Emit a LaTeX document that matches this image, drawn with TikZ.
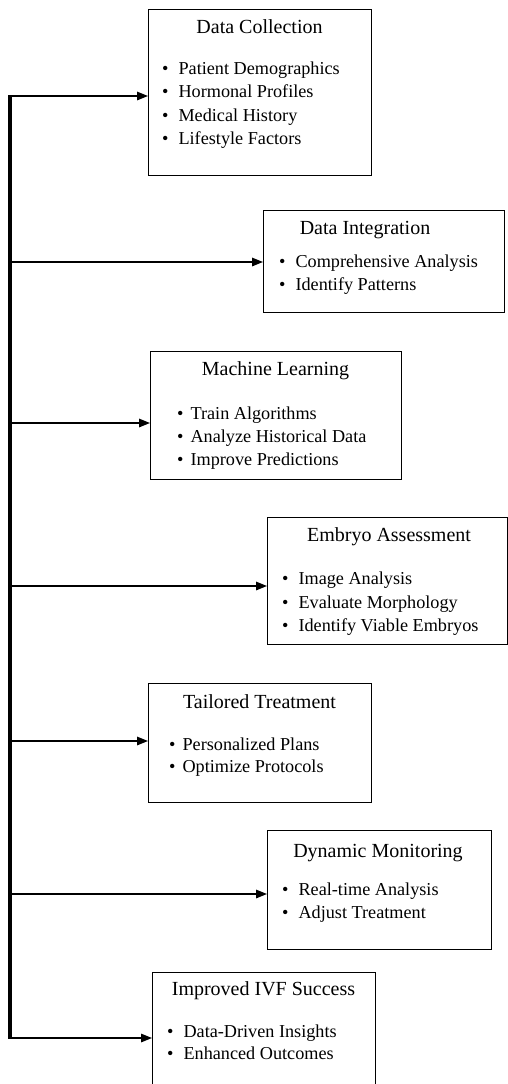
\documentclass[tikz,border=0pt]{standalone}
\usepackage{fontspec}
\setmainfont{Liberation Serif}
\usetikzlibrary{arrows.meta}
\begin{document}
\begin{tikzpicture}[x=1pt,y=-1pt,
  box/.style={draw,line width=1.1pt,inner sep=0pt,anchor=north west},
  ttl/.style={font=\fontsize{20}{23}\selectfont,text height=0.7em,text depth=0.25em,inner sep=0pt,yshift=-4pt},
  itm/.style={font=\fontsize{18.2}{21}\selectfont,text height=0.7em,text depth=0.25em,inner sep=0pt,anchor=west,yshift=-3.5pt},
  conn/.style={line width=1.5pt,-{Triangle[length=11pt,width=8.5pt]}},
  spine/.style={line width=4.8pt}]
\clip (0,0) rectangle (508,1084);
\fill[white] (0,0) rectangle (508,1084);
% boxes
\node[box,minimum width=223pt,minimum height=166pt] (dc) at (148,9) {};
\node[box,minimum width=241pt,minimum height=102pt] (di) at (263,210) {};
\node[box,minimum width=251pt,minimum height=128pt] (ml) at (150,351) {};
\node[box,minimum width=239.5pt,minimum height=127pt] (ea) at (267,517) {};
\node[box,minimum width=223pt,minimum height=119pt] (tt) at (148,683) {};
\node[box,minimum width=224pt,minimum height=119pt] (dm) at (267,830) {};
\node[box,minimum width=223pt,minimum height=130pt] (iv) at (152,972) {};
% titles
\node[ttl] (dct) at (259.5,27) {Data Collection};
\node[ttl] (dit) at (365,228) {Data Integration};
\node[ttl] (mlt) at (275.5,369) {Machine Learning};
\node[ttl] (eat) at (389,535) {Embryo Assessment};
\node[ttl] (ttt) at (259.5,702) {Tailored Treatment};
\node[ttl] (dmt) at (378,851) {Dynamic Monitoring};
\node[ttl] (ivt) at (263.5,989) {Improved IVF Success};
% items
\node[itm] (dc1) at (162,69) {\textbullet\hspace{10pt}Patient Demographics};
\node[itm] (dc2) at (162,92) {\textbullet\hspace{10pt}Hormonal Profiles};
\node[itm] (dc3) at (162,116) {\textbullet\hspace{10pt}Medical History};
\node[itm] (dc4) at (162,139) {\textbullet\hspace{10pt}Lifestyle Factors};
\node[itm] (di1) at (279,262) {\textbullet\hspace{10pt}Comprehensive Analysis};
\node[itm] (di2) at (279,285) {\textbullet\hspace{10pt}Identify Patterns};
\node[itm] (ml1) at (177,414) {\textbullet\hspace{7pt}Train Algorithms};
\node[itm] (ml2) at (177,437) {\textbullet\hspace{7pt}Analyze Historical Data};
\node[itm] (ml3) at (177,460) {\textbullet\hspace{7pt}Improve Predictions};
\node[itm] (ea1) at (282,579) {\textbullet\hspace{10pt}Image Analysis};
\node[itm] (ea2) at (282,603) {\textbullet\hspace{10pt}Evaluate Morphology};
\node[itm] (ea3) at (282,626) {\textbullet\hspace{10pt}Identify Viable Embryos};
\node[itm] (tt1) at (169,745) {\textbullet\hspace{7pt}Personalized Plans};
\node[itm] (tt2) at (169,767) {\textbullet\hspace{7pt}Optimize Protocols};
\node[itm] (dm1) at (282,890) {\textbullet\hspace{10pt}Real-time Analysis};
\node[itm] (dm2) at (282,913) {\textbullet\hspace{10pt}Adjust Treatment};
\node[itm] (iv1) at (167,1032) {\textbullet\hspace{10pt}Data-Driven Insights};
\node[itm] (iv2) at (167,1054) {\textbullet\hspace{10pt}Enhanced Outcomes};
% spine
\coordinate (s1) at (10,96);
\coordinate (s2) at (10,262);
\coordinate (s3) at (10,423);
\coordinate (s4) at (10,586);
\coordinate (s5) at (10,741);
\coordinate (s6) at (10,894);
\coordinate (s7) at (10,1038);
\draw[spine] ([yshift=0.75pt]s1) -- ([yshift=-0.75pt]s7);
\draw[conn] (s1) -- (dc.west |- s1);
\draw[conn] (s2) -- (di.west |- s2);
\draw[conn] (s3) -- (ml.west |- s3);
\draw[conn] (s4) -- (ea.west |- s4);
\draw[conn] (s5) -- (tt.west |- s5);
\draw[conn] (s6) -- (dm.west |- s6);
\draw[conn] (s7) -- (iv.west |- s7);
\end{tikzpicture}
\end{document}
